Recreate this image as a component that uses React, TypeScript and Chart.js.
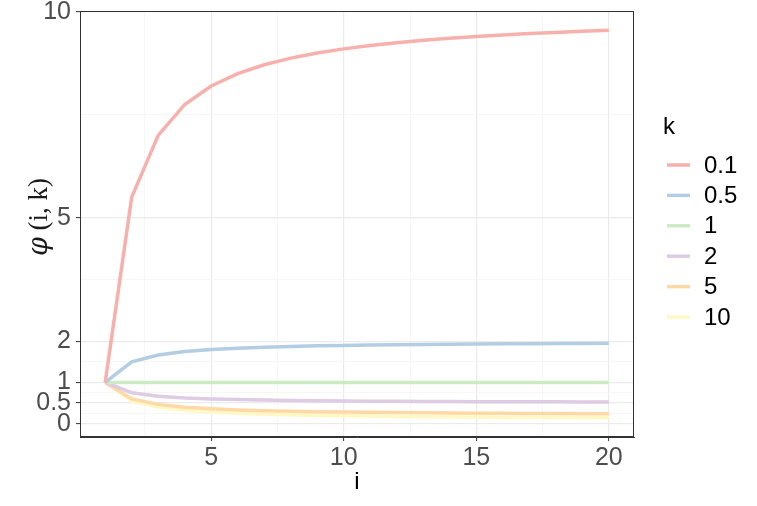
import React, { useEffect, useRef } from 'react';
import { Chart, registerables } from 'chart.js';

Chart.register(...registerables);

// ---- data ----
const iValues = [1, 2, 3, 4, 5, 6, 7, 8, 9, 10, 11, 12, 13, 14, 15, 16, 17, 18, 19, 20];
const kLabels = ['0.1', '0.5', '1', '2', '5', '10'];

const phiK01 = [1, 5.5, 7, 7.75, 8.2, 8.5, 8.714, 8.875, 9, 9.1, 9.182, 9.25, 9.308, 9.357, 9.4, 9.438, 9.471, 9.5, 9.526, 9.55];
const phiK05 = [1, 1.5, 1.667, 1.75, 1.8, 1.833, 1.857, 1.875, 1.889, 1.9, 1.909, 1.917, 1.923, 1.929, 1.933, 1.938, 1.941, 1.944, 1.947, 1.95];
const phiK1 = [1, 1, 1, 1, 1, 1, 1, 1, 1, 1, 1, 1, 1, 1, 1, 1, 1, 1, 1, 1];
const phiK2 = [1, 0.75, 0.667, 0.625, 0.6, 0.583, 0.571, 0.563, 0.556, 0.55, 0.545, 0.542, 0.538, 0.536, 0.533, 0.531, 0.529, 0.528, 0.526, 0.525];
const phiK5 = [1, 0.6, 0.467, 0.4, 0.36, 0.333, 0.314, 0.3, 0.289, 0.28, 0.273, 0.267, 0.262, 0.257, 0.253, 0.25, 0.247, 0.244, 0.242, 0.24];
const phiK10 = [1, 0.55, 0.4, 0.325, 0.28, 0.25, 0.229, 0.213, 0.2, 0.19, 0.182, 0.175, 0.169, 0.164, 0.16, 0.156, 0.153, 0.15, 0.147, 0.145];

const seriesValues = [phiK01, phiK05, phiK1, phiK2, phiK5, phiK10];
const seriesColors = ['#F7B0AB', '#B3CDE3', '#CCEBC5', '#DECBE4', '#FED9A6', '#FFF8C4'];

const xMajorTicks = [5, 10, 15, 20];
const xMinorTicks = [2.5, 7.5, 12.5, 17.5];
const yMajorTicks = [0, 0.5, 1, 2, 5, 10];
const yMinorTicks = [0.25, 0.75, 1.5, 3.5, 7.5];

const xMin = 0.05;
const xMax = 20.95;
const yMin = -0.325;
const yMax = 10.02;

const SANS = '"Liberation Sans", Arial, Helvetica, sans-serif';
const TICK_FONT = { family: SANS, size: 25 };
const GRID_MAJOR = '#EBEBEB';
const GRID_MINOR = '#F4F4F4';
const DARK = '#333333';

const panelPlugin = {
  id: 'panelExtras',
  afterDatasetsDraw(chart: any) {
    const { ctx, chartArea } = chart;
    ctx.save();
    ctx.strokeStyle = DARK;
    ctx.lineWidth = 1;
    ctx.strokeRect(
      Math.round(chartArea.left) + 0.5,
      Math.round(chartArea.top) + 0.5,
      Math.round(chartArea.right - chartArea.left) - 1,
      Math.round(chartArea.bottom - chartArea.top) - 1
    );
    ctx.restore();
  },
  afterDraw(chart: any) {
    const { ctx } = chart;
    ctx.save();
    // y-axis title: φ (i, k)
    ctx.translate(40, 217);
    ctx.rotate(-Math.PI / 2);
    ctx.fillStyle = '#1a1a1a';
    ctx.textBaseline = 'middle';
    const phiFont = 'italic 27px "DejaVu Serif", "Liberation Serif", serif';
    const restFont = '27px "Liberation Serif", "DejaVu Serif", serif';
    ctx.font = phiFont;
    const w1 = ctx.measureText('\u03C6').width;
    ctx.font = restFont;
    const rest = ' (i, k)';
    const w2 = ctx.measureText(rest).width;
    const start = -(w1 + w2) / 2;
    ctx.font = phiFont;
    ctx.textAlign = 'left';
    ctx.fillText('\u03C6', start, 0);
    ctx.font = restFont;
    ctx.fillText(rest, start + w1, 0);
    ctx.restore();

    // legend
    ctx.save();
    ctx.fillStyle = '#000';
    ctx.textBaseline = 'middle';
    ctx.textAlign = 'left';
    ctx.font = '24px ' + SANS;
    ctx.fillText('k', 663, 127);
    ctx.font = '24px ' + SANS;
    const rowStart = 165;
    const rowGap = 30.4;
    kLabels.forEach((lab, idx) => {
      const y = rowStart + idx * rowGap;
      ctx.strokeStyle = seriesColors[idx];
      ctx.lineWidth = 3.5;
      ctx.beginPath();
      ctx.moveTo(667, y);
      ctx.lineTo(690, y);
      ctx.stroke();
      ctx.fillText(lab, 704, y + 1);
    });
    ctx.restore();
  },
};

const isIn = (arr: number[], v: number) => arr.some((a) => Math.abs(a - v) < 1e-9);

export default function App() {
  const canvasRef = useRef<HTMLCanvasElement | null>(null);

  useEffect(() => {
    if (!canvasRef.current) return;
    const datasets = kLabels.map((lab, idx) => ({
      label: lab,
      data: iValues.map((x, j) => ({ x, y: seriesValues[idx][j] })),
      borderColor: seriesColors[idx],
      backgroundColor: seriesColors[idx],
      borderWidth: 3.5,
      pointRadius: 0,
      tension: 0,
      fill: false,
    }));

    const chart = new Chart(canvasRef.current, {
      type: 'line',
      data: { datasets },
      plugins: [panelPlugin],
      options: {
        animation: false,
        responsive: false,
        maintainAspectRatio: false,
        devicePixelRatio: 1,
        layout: { padding: { left: 0, top: 11, right: 123, bottom: 0 } },
        plugins: {
          legend: { display: false },
          tooltip: { enabled: false },
          title: { display: false },
        },
        scales: {
          x: {
            type: 'linear',
            min: xMin,
            max: xMax,
            afterBuildTicks: (s: any) => {
              s.ticks = [...xMinorTicks, ...xMajorTicks].sort((a, b) => a - b).map((v) => ({ value: v }));
            },
            afterFit: (s: any) => {
              s.height = 69;
              s.paddingLeft = 0;
              s.paddingRight = 0;
            },
            ticks: {
              autoSkip: false,
              maxRotation: 0,
              color: '#4D4D4D',
              font: TICK_FONT,
              padding: 2,
              callback: (v: any) => (isIn(xMajorTicks, Number(v)) ? String(v) : ''),
            },
            grid: {
              drawTicks: true,
              tickLength: 4,
              color: (c: any) => (c.tick && isIn(xMajorTicks, c.tick.value) ? GRID_MAJOR : GRID_MINOR),
              lineWidth: (c: any) => (c.tick && isIn(xMajorTicks, c.tick.value) ? 1.2 : 0.8),
              tickColor: (c: any) => (c.tick && isIn(xMajorTicks, c.tick.value) ? DARK : 'rgba(0,0,0,0)'),
              tickWidth: 1,
            },
            border: { display: true, color: DARK, width: 1 },
            title: {
              display: true,
              text: 'i',
              color: '#000',
              font: { family: SANS, size: 24 },
              padding: { top: 0, bottom: 9 },
            },
          },
          y: {
            type: 'linear',
            min: yMin,
            max: yMax,
            afterBuildTicks: (s: any) => {
              s.ticks = [...yMinorTicks, ...yMajorTicks].sort((a, b) => a - b).map((v) => ({ value: v }));
            },
            afterFit: (s: any) => {
              s.width = 80;
              s.paddingTop = 0;
              s.paddingBottom = 0;
            },
            ticks: {
              autoSkip: false,
              color: '#4D4D4D',
              font: TICK_FONT,
              padding: 5,
              callback: (v: any) => (isIn(yMajorTicks, Number(v)) ? String(v) : ''),
            },
            grid: {
              drawTicks: true,
              tickLength: 4,
              color: (c: any) => (c.tick && isIn(yMajorTicks, c.tick.value) ? GRID_MAJOR : GRID_MINOR),
              lineWidth: (c: any) => (c.tick && isIn(yMajorTicks, c.tick.value) ? 1.2 : 0.8),
              tickColor: (c: any) => (c.tick && isIn(yMajorTicks, c.tick.value) ? DARK : 'rgba(0,0,0,0)'),
              tickWidth: 1,
            },
            border: { display: true, color: DARK, width: 1 },
            title: { display: false },
          },
        },
      },
    });
    return () => chart.destroy();
  }, []);

  return (
    <div style={{ position: 'fixed', left: 0, top: 0, width: 757, height: 506, background: '#fff' }}>
      <canvas ref={canvasRef} width={757} height={506} style={{ width: 757, height: 506, display: 'block' }} />
    </div>
  );
}
